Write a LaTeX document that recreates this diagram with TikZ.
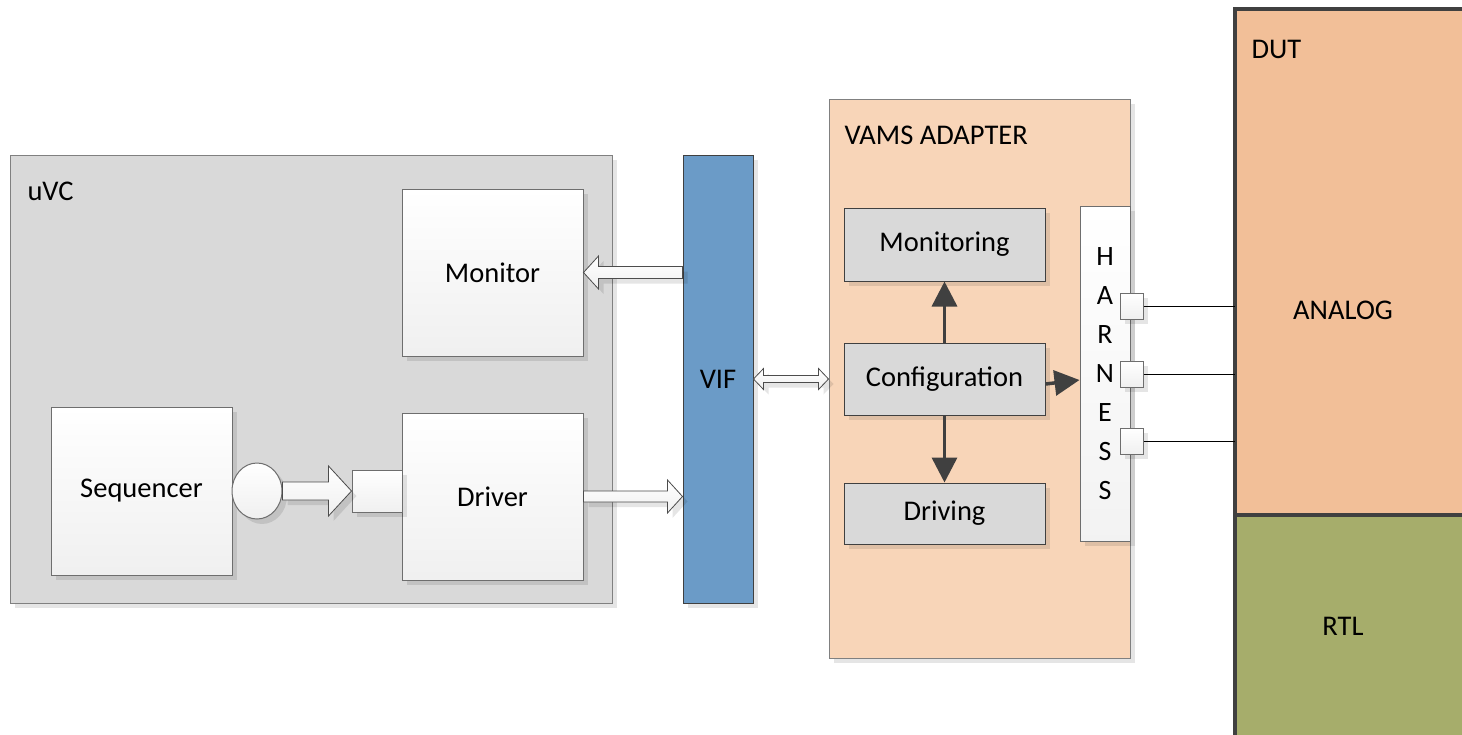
\documentclass[tikz,border=0pt]{standalone}
\usepackage{fontspec}
\setmainfont{Carlito}
\usetikzlibrary{calc,shadows,arrows.meta,shapes.geometric}

\definecolor{uvcfill}{HTML}{D9D9D9}
\definecolor{uvcline}{HTML}{808080}
\definecolor{viffill}{HTML}{6B9BC7}
\definecolor{adapterfill}{HTML}{F8D5B8}
\definecolor{analogfill}{HTML}{F2BF98}
\definecolor{rtlfill}{HTML}{A6AD6B}
\definecolor{darkline}{HTML}{404040}
\definecolor{boxline}{HTML}{6E6E6E}

% Horizontal block arrow: start, tip, shaft half-width, head half-width, signed head length
\newcommand\blockarrow[5]{%
  \path[blockarr] let \p1=(#1), \p2=(#2) in
    (\x1,\y2+#3pt) -- (\x2-#5pt,\y2+#3pt) -- (\x2-#5pt,\y2+#4pt) -- (\x2,\y2)
    -- (\x2-#5pt,\y2-#4pt) -- (\x2-#5pt,\y2-#3pt) -- (\x1,\y2-#3pt) -- cycle;}
% Horizontal double-headed block arrow: left tip, right tip, shaft half-width, head half-width, head length
\newcommand\dblockarrow[5]{%
  \path[blockarr] let \p1=(#1), \p2=(#2) in
    (\x1,\y1) -- (\x1+#5pt,\y1+#4pt) -- (\x1+#5pt,\y1+#3pt) -- (\x2-#5pt,\y1+#3pt)
    -- (\x2-#5pt,\y1+#4pt) -- (\x2,\y1) -- (\x2-#5pt,\y1-#4pt) -- (\x2-#5pt,\y1-#3pt)
    -- (\x1+#5pt,\y1-#3pt) -- (\x1+#5pt,\y1-#4pt) -- cycle;}

\tikzset{
  softshadow/.style={general shadow={shadow xshift=5pt, shadow yshift=-5pt, fill=black, opacity=.10}},
  lbl/.style={font=\fontsize{28.5}{32}\selectfont, text=black},
  container/.style={draw=uvcline, line width=1pt, inner sep=0pt, softshadow},
  whitebox/.style={draw=boxline, line width=1pt, top color=white, bottom color=black!6,
    inner sep=0pt, softshadow, lbl},
  graybox/.style={draw=darkline, line width=1pt, fill=uvcfill, inner sep=0pt, softshadow, lbl},
  blockarr/.style={draw=black!70, line width=.8pt, top color=white, bottom color=black!6, softshadow},
  cfgarrow/.style={draw=darkline, line width=3.5pt, -{Triangle[length=25pt,width=25pt]}},
  wire/.style={draw=black, line width=1pt},
}

\begin{document}
\begin{tikzpicture}[x=1pt,y=-1pt]
\useasboundingbox (0,0) rectangle (1462,734);

% ---- uVC agent ----
\node[container, fill=uvcfill, minimum width=602, minimum height=448] (uvc) at (311,379) {};
\node[lbl, anchor=west] at (24,191) {uVC};
\node[whitebox, minimum width=181, minimum height=167] (mon) at (492.5,272.5) {Monitor};
\node[whitebox, minimum width=181, minimum height=168] (seq) at (141.5,491) {Sequencer};
\node[whitebox, minimum width=181, minimum height=167] (drv) at (492.5,496.5) {Driver};
\node[whitebox, minimum width=50, minimum height=42] (sqp) at (377,491) {};
\node[draw=boxline, line width=1pt, top color=white, bottom color=black!6, softshadow,
  ellipse, minimum width=50, minimum height=56, inner sep=0pt] (seqp) at (257,491) {};

% ---- virtual interface ----
\node[draw=darkline, line width=1pt, fill=viffill, inner sep=0pt, softshadow, lbl,
  minimum width=70, minimum height=448] (vif) at (718,379) {VIF};

% ---- VAMS adapter ----
\node[container, fill=adapterfill, minimum width=301, minimum height=559] (vams) at (979.5,378.5) {};
\node[lbl, anchor=west] at (841,135) {VAMS ADAPTER};
\node[graybox, minimum width=201, minimum height=73] (mong) at (944.5,244.5) {Monitoring};
\node[graybox, minimum width=201, minimum height=72] (cfg) at (944.5,379) {Configuration};
\node[graybox, minimum width=201, minimum height=61] (drvg) at (944.5,513.5) {Driving};
\node[draw=boxline, line width=1pt, top color=white, bottom color=black!5, softshadow,
  inner sep=0pt, minimum width=50, minimum height=335, align=center,
  font=\fontsize{28}{39}\selectfont] (har) at (1105,373.5) {H\\A\\R\\N\\E\\S\\S};

% harness pins
\node[whitebox, minimum width=23, minimum height=26] (p1) at (1131.5,306) {};
\node[whitebox, minimum width=23, minimum height=26] (p2) at (1131.5,374) {};
\node[whitebox, minimum width=23, minimum height=26] (p3) at (1131.5,441) {};

% ---- DUT ----
\node[fill=analogfill, inner sep=0pt, minimum width=240, minimum height=506] (ana) at (1355,262) {};
\node[fill=rtlfill, inner sep=0pt, minimum width=240, minimum height=230] (rtl) at (1355,630) {};
\draw[darkline, line width=3.5pt] (ana.north east) -- (ana.north west) -- (rtl.south west);
\draw[darkline, line width=3.5pt] (ana.south west) -- (ana.south east);
\node[lbl, anchor=west] at (1248,49) {DUT};
\node[lbl] (analbl) at (1343,310) {ANALOG};
\node[lbl] (rtllbl) at (1343,626) {RTL};

% ---- connectors ----
\blockarrow{seqp.east}{sqp.west}{9}{25}{23}
\blockarrow{drv.east}{vif.west |- drv.east}{5.5}{16.5}{15}
\blockarrow{vif.west |- mon.east}{mon.east}{6}{16.5}{-15}
\dblockarrow{vif.east |- cfg.west}{vams.west |- cfg.west}{3.5}{10.5}{10}

\draw[cfgarrow] (cfg.north) -- (mong.south);
\draw[cfgarrow] (cfg.south) -- (drvg.north);
\draw[cfgarrow] ($(cfg.east)+(0,5)$) -- ($(har.west)+(0,6.5)$);

\draw[wire] (p1.east) -- (ana.west |- p1.east);
\draw[wire] (p2.east) -- (ana.west |- p2.east);
\draw[wire] (p3.east) -- (ana.west |- p3.east);
\end{tikzpicture}
\end{document}
